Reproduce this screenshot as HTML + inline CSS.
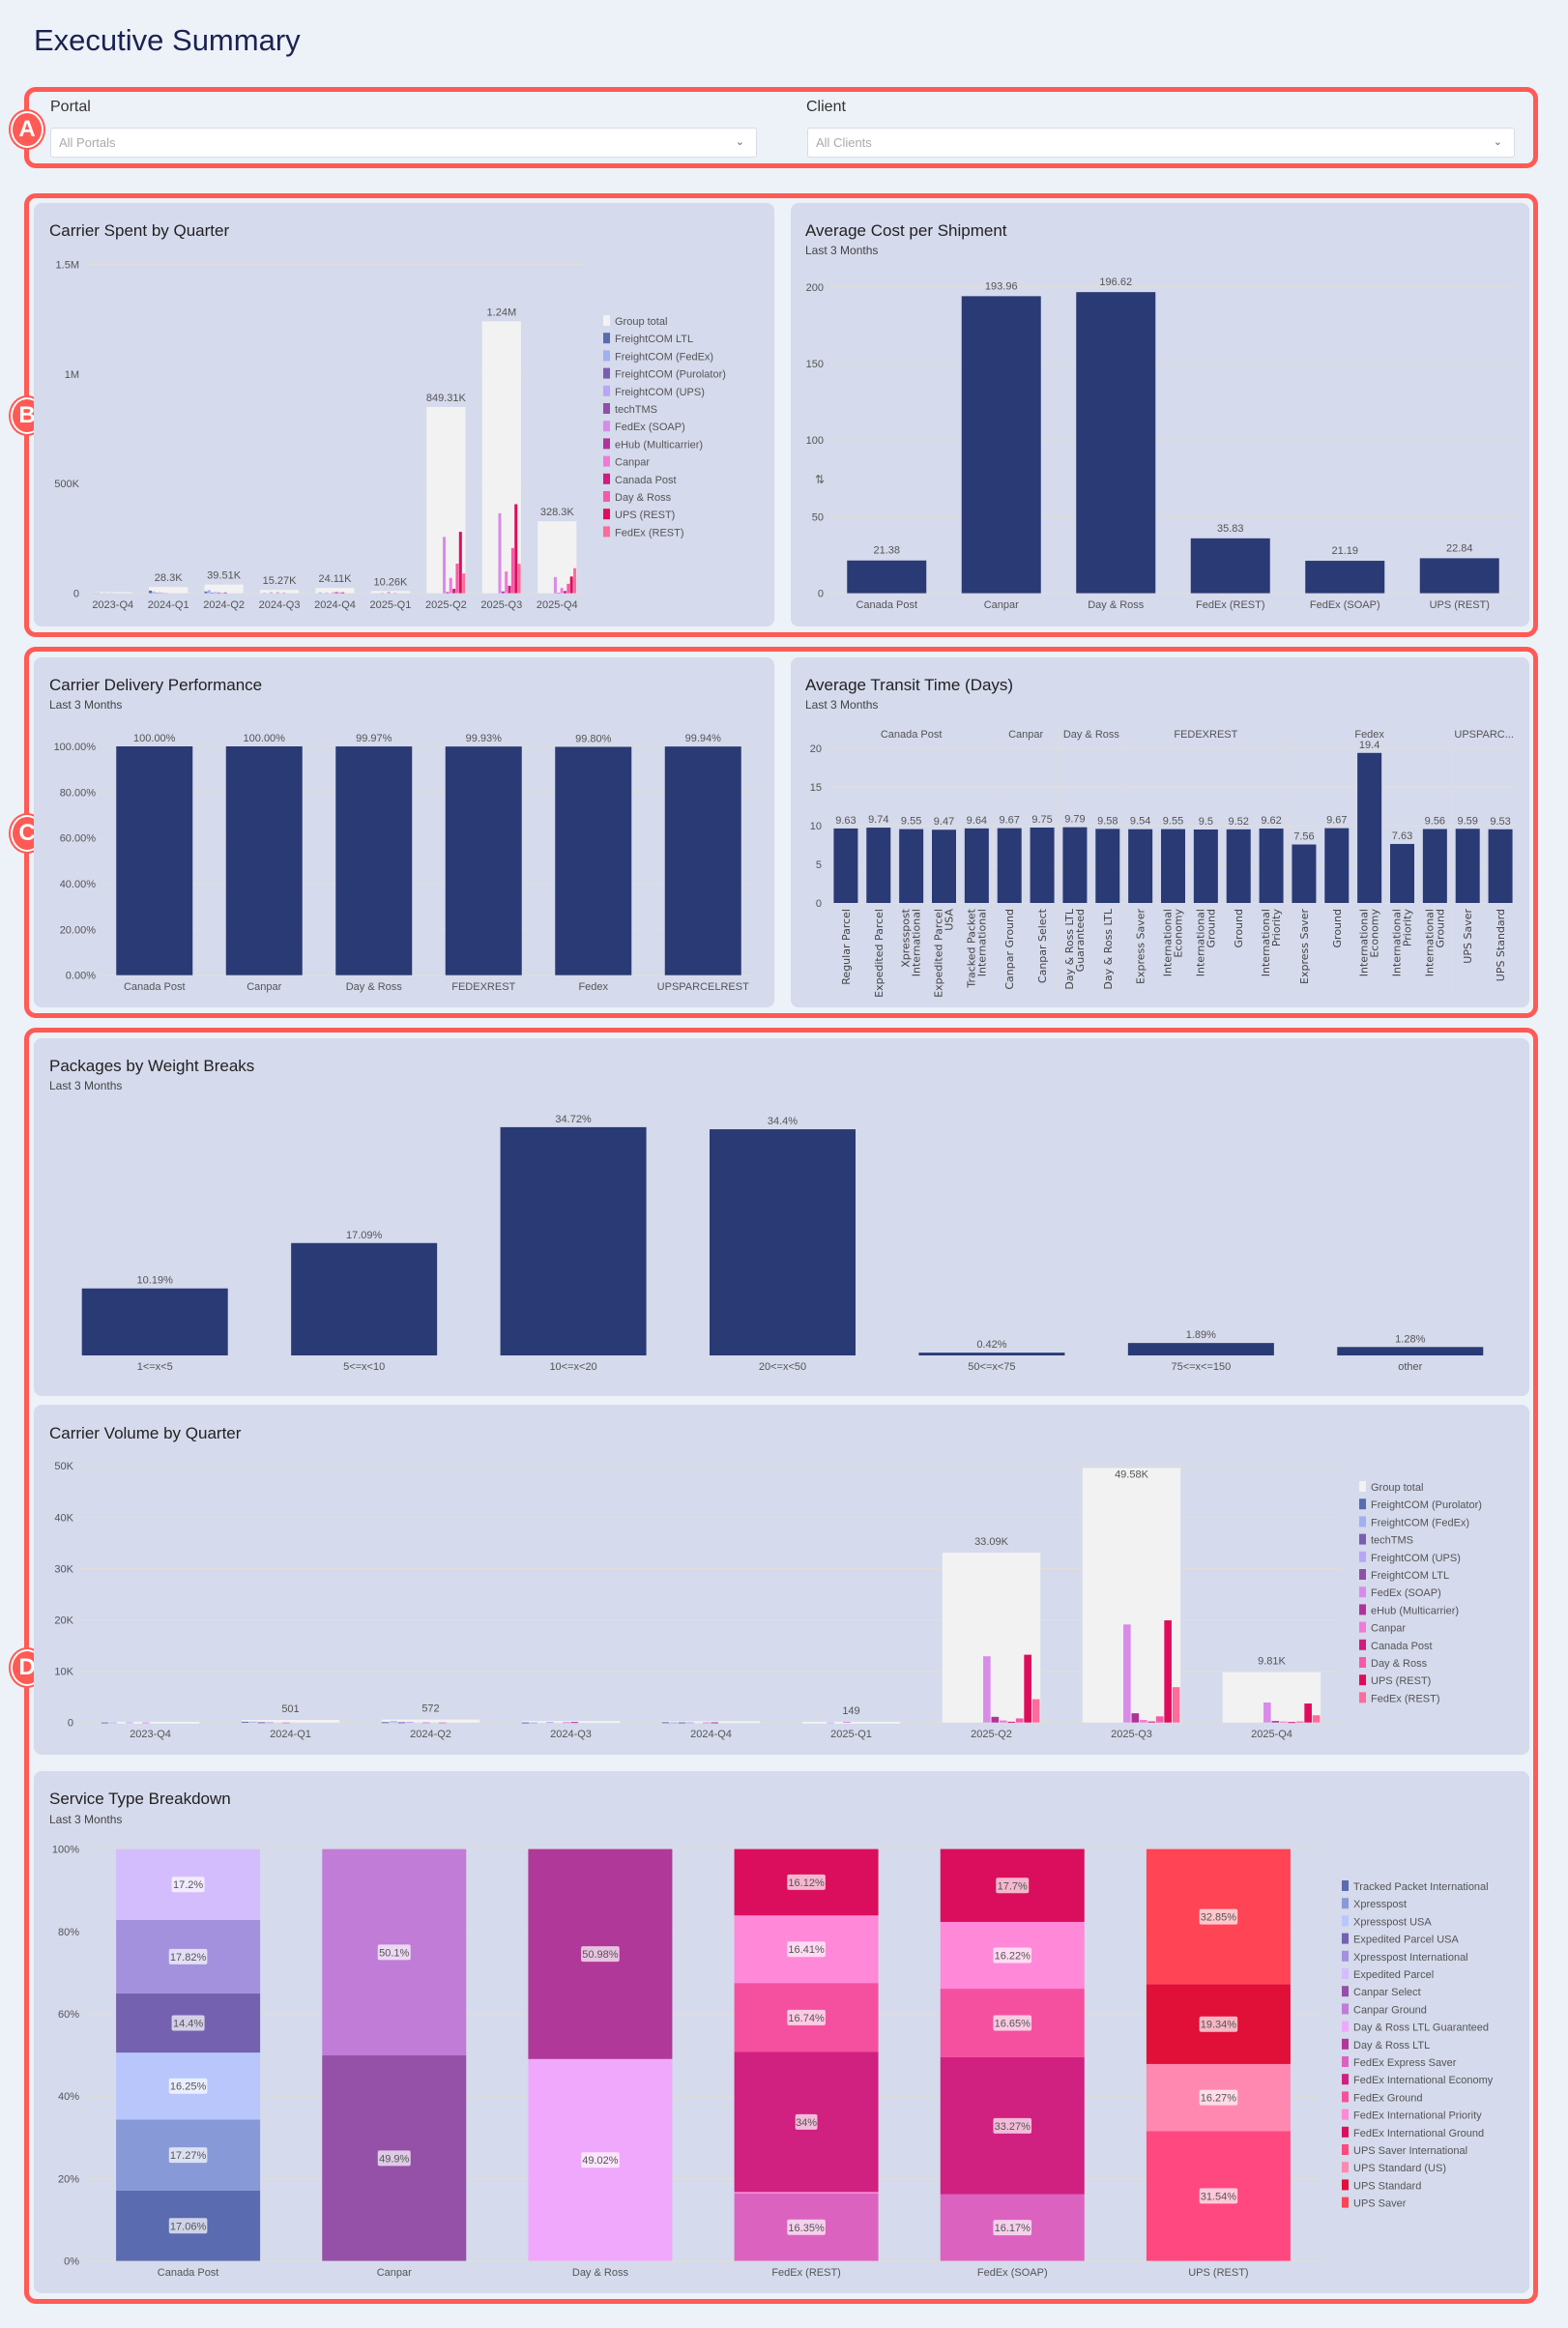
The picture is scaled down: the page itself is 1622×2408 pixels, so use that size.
<!DOCTYPE html>
<html><head><meta charset="utf-8">
<style>
html,body{margin:0;padding:0;}
body{width:1622px;height:2408px;background:#edf1f8;position:relative;overflow:hidden;font-family:"Liberation Sans Narrow","Liberation Sans",sans-serif;color:#1a2350;}
.abs{position:absolute;}
.box{position:absolute;border:5px solid #ff5a55;border-radius:12px;box-sizing:border-box;}
.panel{position:absolute;background:#d5daec;border-radius:8px;}
.ttl{position:absolute;font-size:17px;color:#222;}
.sub{position:absolute;font-size:12px;color:#444;}
.badge{position:absolute;width:30px;height:34px;border-radius:50%;background:#ff5a55;border:2px solid #fff;color:#fff;font:bold 24px "Liberation Sans",sans-serif;text-align:center;line-height:34px;box-shadow:0 0 0 2px #ff5a55;}
.dd{position:absolute;height:31px;background:#fff;border:1px solid #d8dce6;border-radius:3px;box-sizing:border-box;font-size:13px;color:#aaa;line-height:29px;padding-left:8px;}
.dd span{position:absolute;right:12px;top:0;color:#666;font-size:11px;}
.lbl{position:absolute;font-size:16px;color:#333;}
</style></head>
<body>
<div class="abs" style="left:35px;top:24px;font-size:31px;color:#1a2350;">Executive Summary</div>

<div class="box" style="left:25px;top:90px;width:1566px;height:84px;"></div>
<div class="badge" style="left:11px;top:115px;">A</div>
<div class="lbl" style="left:52px;top:102px;">Portal</div>
<div class="dd" style="left:52px;top:132px;width:731px;">All Portals<span>&#8964;</span></div>
<div class="lbl" style="left:834px;top:102px;">Client</div>
<div class="dd" style="left:835px;top:132px;width:732px;">All Clients<span>&#8964;</span></div>

<div class="box" style="left:25px;top:200px;width:1566px;height:459px;"></div>
<div class="badge" style="left:11px;top:411px;">B</div>
<div class="panel" style="left:35px;top:210px;width:766px;height:438px;"></div>
<div class="ttl" style="left:51px;top:229px;">Carrier Spent by Quarter</div>
<div class="panel" style="left:818px;top:210px;width:764px;height:438px;"></div>
<div class="ttl" style="left:833px;top:229px;">Average Cost per Shipment</div>
<div class="sub" style="left:833px;top:252px;">Last 3 Months</div>

<div class="box" style="left:25px;top:669px;width:1566px;height:384px;"></div>
<div class="badge" style="left:11px;top:843px;">C</div>
<div class="panel" style="left:35px;top:680px;width:766px;height:362px;"></div>
<div class="ttl" style="left:51px;top:699px;">Carrier Delivery Performance</div>
<div class="sub" style="left:51px;top:722px;">Last 3 Months</div>
<div class="panel" style="left:818px;top:680px;width:764px;height:362px;"></div>
<div class="ttl" style="left:833px;top:699px;">Average Transit Time (Days)</div>
<div class="sub" style="left:833px;top:722px;">Last 3 Months</div>

<div class="box" style="left:25px;top:1063px;width:1566px;height:1320px;"></div>
<div class="badge" style="left:11px;top:1706px;">D</div>
<div class="panel" style="left:35px;top:1074px;width:1547px;height:370px;"></div>
<div class="ttl" style="left:51px;top:1093px;">Packages by Weight Breaks</div>
<div class="sub" style="left:51px;top:1116px;">Last 3 Months</div>
<div class="panel" style="left:35px;top:1453px;width:1547px;height:362px;"></div>
<div class="ttl" style="left:51px;top:1473px;">Carrier Volume by Quarter</div>
<div class="panel" style="left:35px;top:1832px;width:1547px;height:540px;"></div>
<div class="ttl" style="left:51px;top:1851px;">Service Type Breakdown</div>
<div class="sub" style="left:51px;top:1875px;">Last 3 Months</div>

<svg id="charts" class="abs" style="left:0;top:0;" width="1622" height="2408" xmlns="http://www.w3.org/2000/svg" font-family="Liberation Sans Narrow, Liberation Sans, sans-serif"></svg>

<script>
// ---------- DATA ----------
const quarters = ['2023-Q4','2024-Q1','2024-Q2','2024-Q3','2024-Q4','2025-Q1','2025-Q2','2025-Q3','2025-Q4'];
const spentTotals = [5000,28300,39510,15270,24110,10260,849310,1240000,328300];
const spentTotalLabels = ['','28.3K','39.51K','15.27K','24.11K','10.26K','849.31K','1.24M','328.3K'];
const spentCarriers = ['FreightCOM LTL','FreightCOM (FedEx)','FreightCOM (Purolator)','FreightCOM (UPS)','techTMS','FedEx (SOAP)','eHub (Multicarrier)','Canpar','Canada Post','Day & Ross','UPS (REST)','FedEx (REST)'];
const spentColors = ['#5a6bb0','#a0b0f0','#7a5fb0','#b9a6f5','#9150a8','#d98be8','#b0339a','#f07ad8','#d01c7e','#f55aa8','#de0d5c','#ff6b9a'];
const spentValues = [
 [1000,12000,8000,0,0,0,0,0,0],
 [2000,8000,14000,2000,4000,0,0,0,0],
 [0,2000,3000,0,0,0,0,0,0],
 [1000,4000,6000,5000,3000,2000,0,0,0],
 [0,1000,3000,0,0,0,0,0,0],
 [1000,1300,2000,5000,4000,6000,257000,365000,74000],
 [0,0,3500,0,5000,0,5000,8000,2000],
 [0,0,0,3000,4000,2000,70000,99000,24000],
 [0,0,0,0,4000,0,20000,34000,10000],
 [0,0,0,0,0,0,135000,206000,43000],
 [0,0,0,0,0,0,280000,406000,76000],
 [0,0,0,0,0,0,90000,134000,114000]
];
const spentTicks = [0,500000,1000000,1500000];
const spentTickLabels = ['0','500K','1M','1.5M'];

const costCarriers = ['Canada Post','Canpar','Day & Ross','FedEx (REST)','FedEx (SOAP)','UPS (REST)'];
const costValues = [21.38,193.96,196.62,35.83,21.19,22.84];
const costTicks = [0,50,100,150,200];

const perfCarriers = ['Canada Post','Canpar','Day & Ross','FEDEXREST','Fedex','UPSPARCELREST'];
const perfValues = [100,100,99.97,99.93,99.80,99.94];
const perfLabels = ['100.00%','100.00%','99.97%','99.93%','99.80%','99.94%'];
const perfTicks = [0,20,40,60,80,100];

const transitGroups = ['Canada Post','Canpar','Day & Ross','FEDEXREST','Fedex','UPSPARC...'];
const transitGroupSizes = [5,2,2,5,5,2];
const transitServices = ['Regular Parcel','Expedited Parcel','Xpresspost|International','Expedited Parcel|USA','Tracked Packet|International','Canpar Ground','Canpar Select','Day & Ross LTL|Guaranteed','Day & Ross LTL','Express Saver','International|Economy','International|Ground','Ground','International|Priority','Express Saver','Ground','International|Economy','International|Priority','International|Ground','UPS Saver','UPS Standard'];
const transitValues = [9.63,9.74,9.55,9.47,9.64,9.67,9.75,9.79,9.58,9.54,9.55,9.5,9.52,9.62,7.56,9.67,19.4,7.63,9.56,9.59,9.53];
const transitTicks = [0,5,10,15,20];

const weightCats = ['1<=x<5','5<=x<10','10<=x<20','20<=x<50','50<=x<75','75<=x<=150','other'];
const weightValues = [10.19,17.09,34.72,34.4,0.42,1.89,1.28];

const volTotals = [150,501,572,300,260,149,33090,49580,9810];
const volTotalLabels = ['','501','572','','','149','33.09K','49.58K','9.81K'];
const volCarriers = ['FreightCOM (Purolator)','FreightCOM (FedEx)','techTMS','FreightCOM (UPS)','FreightCOM LTL','FedEx (SOAP)','eHub (Multicarrier)','Canpar','Canada Post','Day & Ross','UPS (REST)','FedEx (REST)'];
const volColors = ['#5a6bb0','#a0b0f0','#7a5fb0','#b9a6f5','#9150a8','#d98be8','#b0339a','#f07ad8','#d01c7e','#f55aa8','#de0d5c','#ff6b9a'];
const volValues = [
 [20,150,80,20,60,0,0,0,0],
 [40,200,250,20,40,0,0,0,0],
 [0,60,60,0,30,0,0,0,0],
 [60,80,120,100,50,30,0,0,0],
 [0,0,0,0,0,0,0,0,0],
 [30,11,40,80,40,119,12900,19100,3900],
 [0,0,0,100,40,0,1100,1800,300],
 [0,0,22,0,0,0,400,500,200],
 [0,0,0,0,0,0,150,200,100],
 [0,0,0,0,0,0,800,1200,200],
 [0,0,0,0,0,0,13200,19900,3700],
 [0,0,0,0,0,0,4540,6880,1410]
];
const volTicks = [0,10000,20000,30000,40000,50000];
const volTickLabels = ['0','10K','20K','30K','40K','50K'];

const svcCarriers = ['Canada Post','Canpar','Day & Ross','FedEx (REST)','FedEx (SOAP)','UPS (REST)'];
const svcSegNames = [
 ['Tracked Packet International','Xpresspost','Xpresspost USA','Expedited Parcel USA','Xpresspost International','Expedited Parcel'],
 ['Canpar Select','Canpar Ground'],
 ['Day & Ross LTL Guaranteed','Day & Ross LTL'],
 ['FedEx Express Saver','FedEx International Priority','FedEx International Economy','FedEx Ground','FedEx International Priority','FedEx International Ground'],
 ['FedEx Express Saver','FedEx International Economy','FedEx Ground','FedEx International Priority','FedEx International Ground'],
 ['UPS Saver International','UPS Standard (US)','UPS Standard','UPS Saver']
];
const svcSegValues = [
 [17.06,17.27,16.25,14.4,17.82,17.2],
 [49.9,50.1],
 [49.02,50.98],
 [16.35,0.38,34,16.74,16.41,16.12],
 [16.17,33.27,16.65,16.22,17.7],
 [31.54,16.27,19.34,32.85]
];
const svcSegLabels = [
 ['17.06%','17.27%','16.25%','14.4%','17.82%','17.2%'],
 ['49.9%','50.1%'],
 ['49.02%','50.98%'],
 ['16.35%','','34%','16.74%','16.41%','16.12%'],
 ['16.17%','33.27%','16.65%','16.22%','17.7%'],
 ['31.54%','16.27%','19.34%','32.85%']
];
const svcColorMap = {'Tracked Packet International':'#5a6bb0','Xpresspost':'#8899d8','Xpresspost USA':'#b8c6fc','Expedited Parcel USA':'#7462b0','Xpresspost International':'#a391de','Expedited Parcel':'#d4bdfc','Canpar Select':'#9550a8','Canpar Ground':'#c07cd6','Day & Ross LTL Guaranteed':'#f0a8fc','Day & Ross LTL':'#b03898','FedEx Express Saver':'#dc62c0','FedEx International Economy':'#d02080','FedEx Ground':'#f550a0','FedEx International Priority':'#ff88d8','FedEx International Ground':'#da0e5c','UPS Saver International':'#ff4880','UPS Standard (US)':'#ff88b0','UPS Standard':'#e01038','UPS Saver':'#ff4455'};
const svcLegend = ['Tracked Packet International','Xpresspost','Xpresspost USA','Expedited Parcel USA','Xpresspost International','Expedited Parcel','Canpar Select','Canpar Ground','Day & Ross LTL Guaranteed','Day & Ross LTL','FedEx Express Saver','FedEx International Economy','FedEx Ground','FedEx International Priority','FedEx International Ground','UPS Saver International','UPS Standard (US)','UPS Standard','UPS Saver'];
const svcTicks = [0,20,40,60,80,100];

// ---------- HELPERS ----------
const NS='http://www.w3.org/2000/svg';
const svg=document.getElementById('charts');
function mk(tag,attrs,txt){const e=document.createElementNS(NS,tag);for(const k in attrs)e.setAttribute(k,attrs[k]);if(txt!==undefined)e.textContent=txt;svg.appendChild(e);return e;}
function lin(d0,d1,r0,r1){return v=>r0+(v-d0)*(r1-r0)/(d1-d0);}
function band(n,x0,x1){const s=(x1-x0)/n;return i=>x0+s*(i+0.5);}
const GRID='#e2ded8', TXT='#555', NAVY='#2a3a75';

function yAxis(ticks,labels,y,xa,xb,lx,name){
  ticks.forEach((t,i)=>{
    const g=mk('line',{x1:xa,x2:xb,y1:y(t),y2:y(t),stroke:GRID,'stroke-width':1});
    
    
    const l=mk('text',{x:lx,y:y(t)+4,'text-anchor':'end','font-size':11,fill:TXT},labels[i]);
    
    
  });
}
function legend(names,colors,x,y0,step,name){
  names.forEach((n,i)=>{
    const r=mk('rect',{x:x,y:y0+i*step-6,width:7,height:11,fill:colors[i]});
    
    
    const t=mk('text',{x:x+12,y:y0+i*step+4,'font-size':11,fill:TXT},n);
    
    
  });
}

// ---------- CHART: Carrier Spent by Quarter ----------
(function(){
  const x=band(quarters.length,88,605), y=lin(0,500000,613.6,500.2), step=(605-88)/quarters.length, gw=step*0.7, sw=gw/12;
  yAxis(spentTicks,spentTickLabels,y,88,605,82,'spent');
  quarters.forEach((q,i)=>{
    const r=mk('rect',{x:x(i)-gw/2,y:y(spentTotals[i]),width:gw,height:y(0)-y(spentTotals[i]),fill:'#f2f2f2'});
    
    
    if(spentTotalLabels[i]){const t=mk('text',{x:x(i),y:y(spentTotals[i])-6,'text-anchor':'middle','font-size':11,fill:TXT},spentTotalLabels[i]);
    
    }
    spentValues.forEach((ser,k)=>{ if(ser[i]<=0) return;
      const b=mk('rect',{x:x(i)-gw/2+k*sw,y:y(ser[i]),width:sw*0.9,height:y(0)-y(ser[i]),fill:spentColors[k]});
      
      
    });
    const l=mk('text',{x:x(i),y:629,'text-anchor':'middle','font-size':11,fill:TXT},q);
    
    
  });
  legend(['Group total'].concat(spentCarriers),['#f2f2f2'].concat(spentColors),624,332,18.2,'spent');
})();

// ---------- CHART: Average Cost ----------
(function(){
  const x=band(costCarriers.length,858,1569), y=lin(0,50,613.6,534.4), bw=82;
  yAxis(costTicks,costTicks.map(String),y,858,1569,852,'cost');
  costCarriers.forEach((c,i)=>{
    const b=mk('rect',{x:x(i)-bw/2,y:y(costValues[i]),width:bw,height:y(0)-y(costValues[i]),fill:NAVY});
    
    
    const t=mk('text',{x:x(i),y:y(costValues[i])-7,'text-anchor':'middle','font-size':11,fill:TXT},String(costValues[i]));
    
    
    const l=mk('text',{x:x(i),y:629,'text-anchor':'middle','font-size':11,fill:TXT},c);
    
    
  });
  const s=mk('text',{x:843,y:500,'font-size':12,fill:'#666'},'⇅');
  
  
})();

// ---------- CHART: Delivery Performance ----------
(function(){
  const x=band(perfCarriers.length,103,784), y=lin(0,100,1008.7,772), bw=79;
  yAxis(perfTicks,perfTicks.map(t=>t.toFixed(2)+'%'),y,103,784,99,'perf');
  perfCarriers.forEach((c,i)=>{
    const b=mk('rect',{x:x(i)-bw/2,y:y(perfValues[i]),width:bw,height:y(0)-y(perfValues[i]),fill:NAVY});
    
    
    const t=mk('text',{x:x(i),y:y(perfValues[i])-5,'text-anchor':'middle','font-size':11,fill:TXT},perfLabels[i]);
    
    
    const l=mk('text',{x:x(i),y:1024,'text-anchor':'middle','font-size':11,fill:TXT},c);
    
    
  });
})();

// ---------- CHART: Transit Time ----------
(function(){
  const n=transitValues.length, x=band(n,858,1569), step=(1569-858)/n, y=lin(0,5,934,894), bw=25;
  yAxis(transitTicks,transitTicks.map(String),y,858,1569,850,'transit');
  let idx=0;
  transitGroups.forEach((g,gi)=>{
    const a=idx, b=idx+transitGroupSizes[gi];
    const t=mk('text',{x:(x(a)+x(b-1))/2,y:763,'text-anchor':'middle','font-size':11,fill:TXT},g);
    
    
    if(gi>0){const d=mk('line',{x1:858+a*step,x2:858+a*step,y1:752,y2:1027,stroke:'#e0dcd8','stroke-width':1});
    
    }
    idx=b;
  });
  transitValues.forEach((v,i)=>{
    const b=mk('rect',{x:x(i)-bw/2,y:y(v),width:bw,height:y(0)-y(v),fill:NAVY});
    
    
    const t=mk('text',{x:x(i),y:y(v)-5,'text-anchor':'middle','font-size':11,fill:TXT},String(v));
    
    
    const parts=transitServices[i].split('|');
    parts.forEach((p,k)=>{
      const cx=x(i)+(parts.length===1?4:(k===0?-2:9));
      const l=mk('text',{x:cx,y:940,'text-anchor':'end','font-size':11,fill:'#444','font-family':'DejaVu Sans, sans-serif',transform:'rotate(-90 '+cx+' 940)'},p);
      
      
    });
  });
})();

// ---------- CHART: Weight Breaks ----------
(function(){
  const x=band(weightCats.length,52,1567), y=lin(0,10,1402,1334), bw=151;
  weightCats.forEach((c,i)=>{
    const b=mk('rect',{x:x(i)-bw/2,y:y(weightValues[i]),width:bw,height:y(0)-y(weightValues[i]),fill:NAVY});
    
    
    const t=mk('text',{x:x(i),y:y(weightValues[i])-5,'text-anchor':'middle','font-size':11,fill:TXT},weightValues[i]+'%');
    
    
    const l=mk('text',{x:x(i),y:1417,'text-anchor':'middle','font-size':11,fill:TXT},c);
    
    
  });
})();

// ---------- CHART: Carrier Volume ----------
(function(){
  const x=band(quarters.length,83,1388), y=lin(0,10000,1781.7,1728.6), step=(1388-83)/quarters.length, gw=step*0.7, sw=gw/12;
  yAxis(volTicks,volTickLabels,y,83,1388,76,'volume');
  quarters.forEach((q,i)=>{
    const r=mk('rect',{x:x(i)-gw/2,y:y(volTotals[i]),width:gw,height:Math.max(2,y(0)-y(volTotals[i])),fill:'#f2f2f2'});
    
    
    if(volTotalLabels[i]){const t=mk('text',{x:x(i),y:y(volTotals[i])-(volTotals[i]>45000?-10:8),'text-anchor':'middle','font-size':11,fill:TXT},volTotalLabels[i]);
    
    }
    volValues.forEach((ser,k)=>{ if(ser[i]<=0) return;
      const b=mk('rect',{x:x(i)-gw/2+k*sw,y:y(ser[i]),width:sw*0.9,height:Math.max(1,y(0)-y(ser[i])),fill:volColors[k]});
      
      
    });
    const l=mk('text',{x:x(i),y:1797,'text-anchor':'middle','font-size':11,fill:TXT},q);
    
    
  });
  legend(['Group total'].concat(volCarriers),['#f2f2f2'].concat(volColors),1406,1538,18.2,'volume');
})();

// ---------- CHART: Service Type Breakdown ----------
(function(){
  const x=band(svcCarriers.length,88,1367), y=lin(0,100,2338.6,1912.6), bw=149;
  yAxis(svcTicks,svcTicks.map(t=>t+'%'),y,88,1367,82,'service');
  svcCarriers.forEach((c,i)=>{
    let acc=0;
    svcSegValues[i].forEach((v,k)=>{
      const b=mk('rect',{x:x(i)-bw/2,y:y(acc+v),width:bw,height:y(acc)-y(acc+v),fill:svcColorMap[svcSegNames[i][k]]});
      
      
      const lab=svcSegLabels[i][k];
      if(lab){
        const cy=(y(acc)+y(acc+v))/2, w=lab.length*5.6+6;
        const bg=mk('rect',{x:x(i)-w/2,y:cy-8,width:w,height:16,fill:'rgba(255,255,255,0.7)',rx:2});
        
        
        const t=mk('text',{x:x(i),y:cy+4,'text-anchor':'middle','font-size':11,fill:'#555'},lab);
        
        
      }
      acc+=v;
    });
    const l=mk('text',{x:x(i),y:2354,'text-anchor':'middle','font-size':11,fill:TXT},c);
    
    
  });
  legend(svcLegend,svcLegend.map(n=>svcColorMap[n]),1388,1951,18.2,'service');
})();
</script>
</body></html>
